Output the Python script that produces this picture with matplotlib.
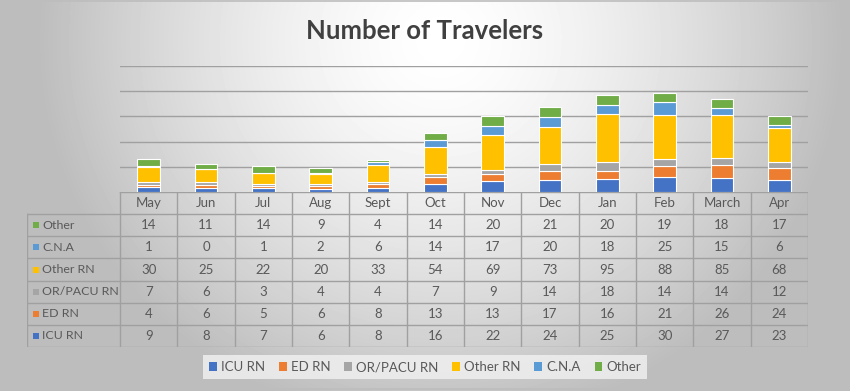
import matplotlib

matplotlib.use("Agg")
import matplotlib.pyplot as plt
import numpy as np
from matplotlib.patches import Patch

plt.rcParams["font.family"] = ["Lato", "DejaVu Sans"]

months = ["May", "Jun", "Jul", "Aug", "Sept", "Oct", "Nov", "Dec", "Jan", "Feb", "March", "Apr"]
series = ["ICU RN", "ED RN", "OR/PACU RN", "Other RN", "C.N.A", "Other"]
icu_rn = [9, 8, 7, 6, 8, 16, 22, 24, 25, 30, 27, 23]
ed_rn = [4, 6, 5, 6, 8, 13, 13, 17, 16, 21, 26, 24]
or_pacu_rn = [7, 6, 3, 4, 4, 7, 9, 14, 18, 14, 14, 12]
other_rn = [30, 25, 22, 20, 33, 54, 69, 73, 95, 88, 85, 68]
cna = [1, 0, 1, 2, 6, 14, 17, 20, 18, 25, 15, 6]
other = [14, 11, 14, 9, 4, 14, 20, 21, 20, 19, 18, 17]
values = [icu_rn, ed_rn, or_pacu_rn, other_rn, cna, other]
colors = ["#4472C4", "#ED7D31", "#A5A5A5", "#FFC000", "#5B9BD5", "#70AD47"]

W, H = 850, 391
TXT = "#595959"
GRID = "#A0A0A0"


def box(x0, y0, x1, y1):
    # pixel box (top-left origin) -> figure fraction rect
    return [x0 / W, 1 - y1 / H, (x1 - x0) / W, (y1 - y0) / H]


fig = plt.figure(figsize=(W / 100, H / 100), dpi=100)

# soft radial grey background like the Office chart style
bg = fig.add_axes([0, 0, 1, 1], zorder=-10)
yy, xx = np.mgrid[0:H, 0:W]
r = np.sqrt(((xx - 440) / 500) ** 2 + ((yy - 40) / 480) ** 2)
shade = np.clip(1 - 0.36 * r ** 1.5, 0.74, 1)
bg.imshow(shade, cmap="gray", vmin=0, vmax=1, aspect="auto", extent=[0, W, H, 0])
bg.add_patch(plt.Rectangle((1, 1), W - 3, H - 3, fill=False, ec="#BDBDBD", lw=1.2))
bg.set_xlim(0, W)
bg.set_ylim(H, 0)
bg.axis("off")

fig.text(425 / W, 1 - 31 / H, "Number of Travelers", ha="center", va="center",
         fontsize=18.5, fontweight="bold", color="#404040")

# stacked bars
ax = fig.add_axes(box(120, 66, 808, 192))
ax.patch.set_alpha(0)
x = np.arange(len(months))
bottom = np.zeros(len(months))
for name, vals, c in zip(series, values, colors):
    ax.bar(x, vals, 0.4, bottom=bottom, color=c, edgecolor="white", linewidth=0.8, zorder=3)
    bottom += np.array(vals)
for g in [50, 100, 150, 200, 250]:
    ax.axhline(g, color=GRID, lw=1, zorder=1)
ax.set_xlim(-0.5, 11.5)
ax.set_ylim(0, 250)
ax.set_xticks([])
ax.set_yticks([])
for s in ax.spines.values():
    s.set_visible(False)

# data table under the bars
col_w = (808 - 120) / 12
xl = -0.5 - (120 - 27) / col_w
tax = fig.add_axes(box(27, 192, 808, 347))
tax.patch.set_alpha(0)
tax.set_xlim(xl, 11.5)
tax.set_ylim(7, 0)
tax.axis("off")
for k in range(13):
    tax.plot([k - 0.5, k - 0.5], [0, 7], color=GRID, lw=1)
tax.plot([xl, xl], [1, 7], color=GRID, lw=1)
tax.plot([-0.5, 11.5], [0, 0], color=GRID, lw=1)
for j in range(1, 8):
    tax.plot([xl, 11.5], [j, j], color=GRID, lw=1)
for i, m in enumerate(months):
    tax.text(i, 0.5, m, ha="center", va="center", fontsize=9.5, color=TXT)
rows = list(zip(series, values, colors))[::-1]
for j, (name, vals, c) in enumerate(rows, start=1):
    tax.scatter([xl + 0.15], [j + 0.5], marker="s", s=18, color=c, linewidths=0)
    tax.text(xl + 0.26, j + 0.5, name, ha="left", va="center", fontsize=8.9, color=TXT)
    for i, v in enumerate(vals):
        tax.text(i, j + 0.5, str(v), ha="center", va="center", fontsize=9.5, color=TXT)

handles = [Patch(facecolor=c, label=s) for s, c in zip(series, colors)]
leg = fig.legend(handles=handles, ncol=6, loc="center", bbox_to_anchor=(425 / W, 1 - 367 / H),
                 frameon=True, facecolor="#F2F2F2", edgecolor="none", fancybox=False,
                 fontsize=9.5, handlelength=0.6, handleheight=0.6, handletextpad=0.3,
                 columnspacing=1.05, borderpad=0.45)
for t in leg.get_texts():
    t.set_color(TXT)

fig.savefig("out.png", dpi=100)
